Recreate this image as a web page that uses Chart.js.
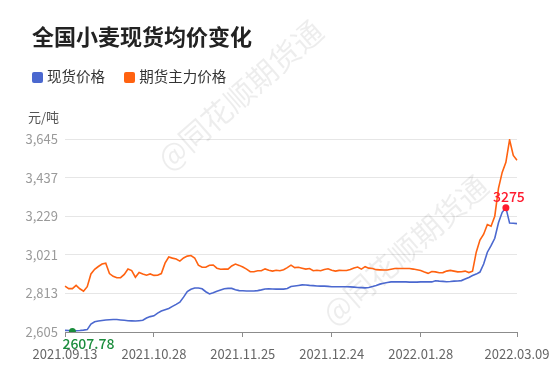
<!DOCTYPE html>
<html>
<head>
<meta charset="utf-8">
<script src="https://cdn.jsdelivr.net/npm/chart.js@4.4.1/dist/chart.umd.min.js"></script>
<style>
  html, body { margin: 0; padding: 0; background: #fff; }
  #wrap { position: relative; width: 556px; height: 378px; font-family: "Noto Sans CJK SC", "Noto Sans", sans-serif; }
  #title { position: absolute; left: 32px; top: 19px; font-size: 22px; font-weight: bold; color: #222; letter-spacing: 0; }
  #legend { position: absolute; left: 32px; top: 65px; font-size: 14.5px; color: #333; }
  #legend span.item { display: inline-block; margin-right: 16px; }
  #legend i { display: inline-block; width: 11px; height: 11px; border-radius: 2px; margin-right: 4px; vertical-align: -1px; }
  #unit { position: absolute; left: 28px; top: 107px; font-size: 13px; color: #555; }
  canvas { position: absolute; left: 0; top: 0; }
</style>
</head>
<body>
<div id="wrap">
  <canvas id="wheatChart" width="556" height="378"></canvas>
  <div id="title">全国小麦现货均价变化</div>
  <div id="legend">
    <span class="item"><i style="background:#4b68cf"></i>现货价格</span>
    <span class="item"><i style="background:#ff6210"></i>期货主力价格</span>
  </div>
  <div id="unit">元/吨</div>
</div>
<script>
// tick labels and where they sit on the category axis
const tickDates = ['2021.09.13', '2021.10.28', '2021.11.25', '2021.12.24', '2022.01.28', '2022.03.09'];
const tickPos = [0, 24, 48, 72, 96, 122];

// spot price (现货价格)
const spotPrice = [
  2614, 2613, 2607.78, 2612, 2613, 2615, 2618, 2648, 2660, 2664,
  2667, 2670, 2671, 2672, 2672, 2670, 2668, 2666, 2665, 2664,
  2666, 2668, 2680, 2688, 2692, 2707, 2718, 2725, 2732, 2743,
  2754, 2766, 2793, 2823, 2835, 2842, 2842, 2838, 2822, 2810,
  2816, 2824, 2831, 2838, 2840, 2840, 2833, 2828, 2827, 2826,
  2826, 2826, 2828, 2832, 2837, 2838, 2837, 2836, 2836, 2836,
  2839, 2850, 2853, 2856, 2859, 2858, 2856, 2855, 2853, 2852,
  2852, 2851, 2849, 2849, 2849, 2849, 2849, 2848, 2847, 2845,
  2844, 2843, 2845, 2850, 2856, 2863, 2868, 2872, 2875, 2875,
  2875, 2875, 2875, 2874, 2874, 2874, 2875, 2875, 2875, 2875,
  2881, 2879, 2878, 2876, 2877, 2879, 2880, 2882, 2891, 2899,
  2909, 2917, 2928, 2971, 3035, 3070, 3110, 3194, 3250, 3275,
  3192, 3191, 3189
];

// futures main contract price (期货主力价格)
const futuresPrice = [
  2852, 2839, 2839, 2856, 2838, 2825, 2849, 2918, 2943, 2958,
  2971, 2976, 2920, 2905, 2897, 2898, 2915, 2944, 2936, 2900,
  2926, 2918, 2911, 2918, 2910, 2911, 2920, 2976, 3009, 3003,
  2998, 2987, 3004, 3014, 3017, 3004, 2965, 2954, 2954, 2965,
  2966, 2949, 2943, 2944, 2944, 2961, 2971, 2964, 2955, 2944,
  2930, 2930, 2935, 2935, 2945, 2938, 2933, 2938, 2935, 2941,
  2952, 2965, 2952, 2954, 2949, 2944, 2947, 2935, 2938, 2935,
  2942, 2946, 2938, 2933, 2937, 2936, 2936, 2942, 2950, 2955,
  2944, 2957, 2949, 2947, 2941, 2940, 2939, 2939, 2943, 2947,
  2947, 2947, 2947, 2947, 2944, 2940, 2936, 2928, 2921, 2931,
  2929, 2924, 2925, 2933, 2937, 2933, 2929, 2930, 2933, 2925,
  2933, 3035, 3100, 3132, 3184, 3175, 3229, 3379, 3465, 3519,
  3641, 3556, 3530
];

const yMin = 2605, yMax = 3645, yStep = 208;

const labels = spotPrice.map((v, i) => {
  const k = tickPos.indexOf(i);
  return k >= 0 ? tickDates[k] : '';
});

const minIdx = spotPrice.indexOf(Math.min(...spotPrice));
const maxIdx = spotPrice.indexOf(Math.max(...spotPrice));

// labels for the min / max points + the faint watermark
const extrasPlugin = {
  id: 'extras',
  beforeDatasetsDraw(chart) {
    const c = chart.ctx;
    c.save();
    c.fillStyle = 'rgba(0,0,0,0.07)';
    c.font = '30px "Noto Sans CJK SC"';
    c.textAlign = 'center';
    c.textBaseline = 'middle';
    [[240, 95], [405, 250]].forEach(p => {
      c.save();
      c.translate(p[0], p[1]);
      c.rotate(-0.72);
      c.fillText('@同花顺期货通', 0, 0);
      c.restore();
    });
    c.restore();
  },
  afterDatasetsDraw(chart) {
    const c = chart.ctx;
    const pts = chart.getDatasetMeta(0).data;
    c.save();
    c.textBaseline = 'middle';
    c.font = '500 14px "Noto Sans CJK SC"';
    const lo = pts[minIdx];
    c.fillStyle = '#1a8c3c';
    c.textAlign = 'left';
    c.fillText(String(spotPrice[minIdx]), lo.x - 10, lo.y + 12);
    const hi = pts[maxIdx];
    c.fillStyle = '#ff1a2e';
    c.textAlign = 'center';
    c.fillText(String(spotPrice[maxIdx]), hi.x + 3, hi.y - 11);
    c.restore();
  }
};

const ctx = document.getElementById('wheatChart').getContext('2d');
const wheatChart = new Chart(ctx, {
  type: 'line',
  data: {
    labels: labels,
    datasets: [
      {
        label: '现货价格',
        data: spotPrice,
        borderColor: '#4b68cf',
        borderWidth: 1.6,
        tension: 0,
        pointRadius: c => (c.dataIndex === minIdx || c.dataIndex === maxIdx) ? 3.5 : 0,
        pointBackgroundColor: c => c.dataIndex === minIdx ? '#1a8c3c' : '#ff1a2e',
        pointBorderWidth: 0,
        order: 0
      },
      {
        label: '期货主力价格',
        data: futuresPrice,
        borderColor: '#ff6210',
        borderWidth: 1.6,
        tension: 0,
        pointRadius: 0,
        order: 1
      }
    ]
  },
  options: {
    responsive: false,
    animation: false,
    events: [],
    layout: { padding: { top: 139, right: 39, bottom: 16, left: 0 } },
    plugins: {
      legend: { display: false },
      title: { display: false },
      tooltip: { enabled: false }
    },
    scales: {
      x: {
        offset: false,
        border: { display: true, color: '#8c8c8c', width: 1 },
        grid: { display: true, drawOnChartArea: false, drawTicks: true, tickLength: 5, color: '#8c8c8c' },
        ticks: {
          autoSkip: false,
          maxRotation: 0,
          padding: 9,
          color: '#666',
          font: { size: 13, family: '"Noto Sans CJK SC"' },
          callback: function(val, i) {
            const k = tickPos.indexOf(i);
            return k >= 0 ? tickDates[k] : null;
          }
        },
        afterFit: s => { s.height = 30; s.paddingLeft = 0; s.paddingRight = 0; }
      },
      y: {
        min: yMin,
        max: yMax,
        border: { display: false },
        grid: { color: '#e6e6e6', drawTicks: false },
        ticks: {
          stepSize: yStep,
          padding: 7,
          color: '#9a9a9a',
          font: { size: 13, family: '"Noto Sans CJK SC"' },
          callback: v => v.toLocaleString('en-US')
        },
        afterFit: s => { s.width = 65; }
      }
    }
  },
  plugins: [extrasPlugin]
});
</script>
</body>
</html>
